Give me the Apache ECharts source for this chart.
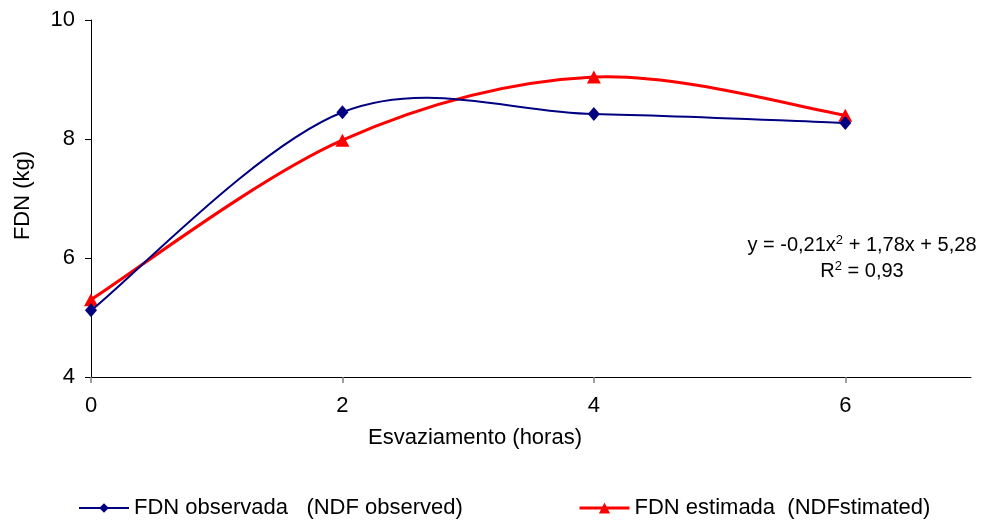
<!DOCTYPE html>
<html>
<head>
<meta charset="utf-8">
<script src="https://cdn.jsdelivr.net/npm/echarts@6/dist/echarts.min.js"></script>
<style>html,body{margin:0;padding:0;background:#fff;}#c{width:994px;height:520px;}</style>
</head>
<body>
<div id="c"></div>
<script>
var hours = [0, 2, 4, 6];
var xTickLabels = [0, 2, 4, 6];
var yTickLabels = [4, 6, 8, 10];
var observed = [5.12, 8.45, 8.42, 8.27];
var estimated = [5.30, 7.98, 9.04, 8.40];
var seriesNames = ['FDN observada   (NDF observed)', 'FDN estimada  (NDFstimated)'];
var axisTitles = ['Esvaziamento (horas)', 'FDN (kg)'];

var font = '"Liberation Sans", Arial, sans-serif';
var BLUE = '#000080', RED = '#ff0000';
function pairs(xs, ys) { return xs.map(function (x, i) { return [x, ys[i]]; }); }

// Spreadsheet-style smoothed line: cubic Bezier segments (Catmull-Rom, tension 1/6)
// computed from the data points mapped through the chart's own axes.
function smoothLine(values, color, width, z) {
  var data = pairs(hours, values);
  return {
    type: 'custom', silent: true, z: z,
    data: data, encode: { x: 0, y: 1 },
    renderItem: function (params, api) {
      var i = params.dataIndex;
      if (i >= data.length - 1) return null;
      var pts = data.map(function (d) { return api.coord(d); });
      var p0 = pts[Math.max(i - 1, 0)], p1 = pts[i], p2 = pts[i + 1], p3 = pts[Math.min(i + 2, pts.length - 1)];
      return {
        type: 'bezierCurve',
        shape: {
          x1: p1[0], y1: p1[1], x2: p2[0], y2: p2[1],
          cpx1: p1[0] + (p2[0] - p0[0]) / 6, cpy1: p1[1] + (p2[1] - p0[1]) / 6,
          cpx2: p2[0] - (p3[0] - p1[0]) / 6, cpy2: p2[1] - (p3[1] - p1[1]) / 6
        },
        style: { stroke: color, lineWidth: width, fill: null, lineCap: 'round', lineJoin: 'round' }
      };
    }
  };
}

var chart = echarts.init(document.getElementById('c'), null, { renderer: 'canvas' });
chart.setOption({
  backgroundColor: '#ffffff',
  animation: false,
  grid: { left: 91, top: 20, right: 23, bottom: 143, containLabel: false },
  xAxis: {
    type: 'value', min: 0, max: 7, interval: 2,
    name: axisTitles[0], nameLocation: 'middle', nameGap: 50,
    nameTextStyle: { fontFamily: font, fontSize: 22, color: '#000', padding: [0, 112, 0, 0] },
    axisLine: { show: true, lineStyle: { color: '#000', width: 1 } },
    axisTick: { show: true, length: 6, customValues: xTickLabels, lineStyle: { color: '#808080', width: 1.5 } },
    axisLabel: { customValues: xTickLabels, margin: 18, fontFamily: font, fontSize: 22, color: '#000' },
    splitLine: { show: false }
  },
  yAxis: {
    type: 'value', min: 4, max: 10, interval: 2,
    name: axisTitles[1], nameLocation: 'middle', nameGap: 57, nameRotate: 90,
    nameTextStyle: { fontFamily: font, fontSize: 22, color: '#000', padding: [0, 0, 0, 6] },
    axisLine: { show: true, lineStyle: { color: '#000', width: 1 } },
    axisTick: { show: true, length: 6, customValues: yTickLabels, lineStyle: { color: '#000', width: 1 } },
    axisLabel: { customValues: yTickLabels, margin: 16, fontFamily: font, fontSize: 22, color: '#000' },
    splitLine: { show: false }
  },
  legend: [
    { data: [{ name: seriesNames[0], lineStyle: { color: BLUE, width: 2, opacity: 1 } }],
      left: 78, top: 497, padding: 0, itemWidth: 50, itemHeight: 12, itemGap: 0,
      textStyle: { fontFamily: font, fontSize: 22, color: '#000' } },
    { data: [{ name: seriesNames[1], lineStyle: { color: RED, width: 3, opacity: 1 } }],
      left: 578, top: 497, padding: 0, itemWidth: 50, itemHeight: 14, itemGap: 0,
      textStyle: { fontFamily: font, fontSize: 22, color: '#000' } }
  ],
  graphic: [
    { type: 'text', x: 862, y: 245,
      style: {
        text: '{n|y = -0,21x}{s|2}{n| + 1,78x + 5,28}',
        align: 'center', verticalAlign: 'middle',
        rich: {
          n: { fontFamily: font, fontSize: 20, fill: '#000', color: '#000' },
          s: { fontFamily: font, fontSize: 13, fill: '#000', color: '#000', verticalAlign: 'top', padding: [0, 0, 10, 0] }
        }
      } },
    { type: 'text', x: 862, y: 271,
      style: {
        text: '{n|R}{s|2}{n| = 0,93}',
        align: 'center', verticalAlign: 'middle',
        rich: {
          n: { fontFamily: font, fontSize: 20, fill: '#000', color: '#000' },
          s: { fontFamily: font, fontSize: 13, fill: '#000', color: '#000', verticalAlign: 'top', padding: [0, 0, 10, 0] }
        }
      } }
  ],
  series: [
    smoothLine(estimated, RED, 3, 2),
    smoothLine(observed, BLUE, 2, 4),
    {
      name: seriesNames[1], type: 'line', data: pairs(hours, estimated),
      symbol: 'triangle', symbolSize: [14, 13],
      lineStyle: { color: RED, width: 3, opacity: 0 },
      itemStyle: { color: RED }, z: 3
    },
    {
      name: seriesNames[0], type: 'line', data: pairs(hours, observed),
      symbol: 'diamond', symbolSize: [12, 14],
      lineStyle: { color: BLUE, width: 2, opacity: 0 },
      itemStyle: { color: BLUE }, z: 5
    }
  ]
});
</script>
</body>
</html>
